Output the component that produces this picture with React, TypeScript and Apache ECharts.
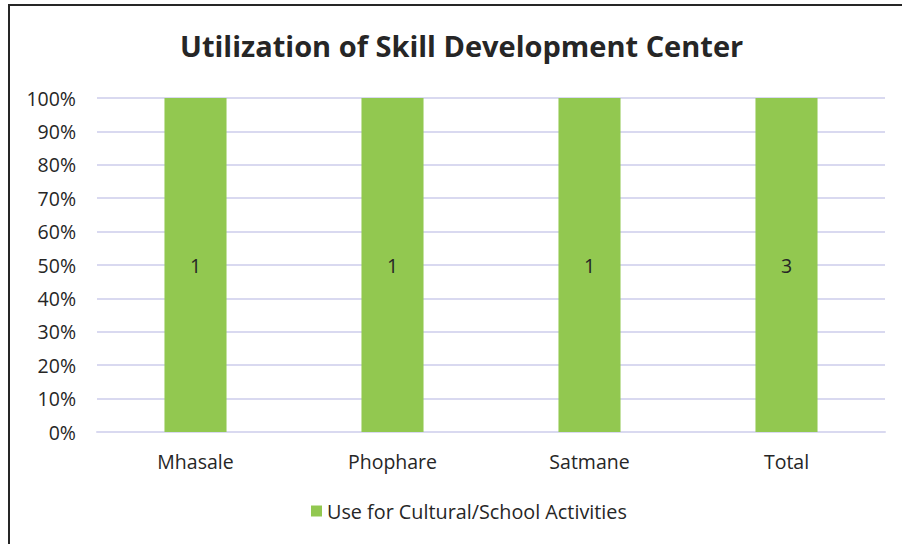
import React, { useEffect, useRef } from "react";
import * as echarts from "echarts";

const categories = ["Mhasale", "Phophare", "Satmane", "Total"];
const seriesName = "Use for Cultural/School Activities";
const counts = [1, 1, 1, 3];
const yTicks = [0, 10, 20, 30, 40, 50, 60, 70, 80, 90, 100];
const title = "Utilization of Skill Development Center";

const FONT = "'Open Sans', 'Noto Sans', sans-serif";

export default function App() {
  const ref = useRef<HTMLDivElement>(null);
  useEffect(() => {
    if (!ref.current) return;
    const chart = echarts.init(ref.current, null, { renderer: "svg" });
    // one series => its share of each category's total
    const totals = counts.map((c) => c);
    const pct = counts.map((c, i) => (totals[i] ? (c / totals[i]) * 100 : 0));
    chart.setOption({
      animation: false,
      backgroundColor: "#ffffff",
      textStyle: { fontFamily: FONT },
      title: {
        text: title,
        left: 175,
        top: 26,
        textStyle: { fontFamily: FONT, fontSize: 29, fontWeight: "bold", color: "#262626" },
      },
      grid: { left: 97, right: 17, top: 98, bottom: 112, containLabel: false },
      legend: {
        top: 496,
        left: 306,
        itemWidth: 11,
        itemHeight: 11,
        itemGap: 6,
        icon: "rect",
        textStyle: { fontFamily: FONT, fontSize: 19.8, color: "#262626" },
        data: [seriesName],
      },
      xAxis: {
        type: "category",
        data: categories,
        axisLine: { show: true, lineStyle: { color: "#d9d9f0", width: 2 } },
        axisTick: { show: false },
        axisLabel: { fontFamily: FONT, fontSize: 19.5, color: "#262626", margin: 19 },
      },
      yAxis: {
        type: "value",
        min: 0,
        max: 100,
        interval: 10,
        axisLine: { show: false },
        axisTick: { show: false },
        splitLine: { lineStyle: { color: "#d9d9f0", width: 2 } },
        axisLabel: {
          fontFamily: FONT,
          fontSize: 19.5,
          color: "#262626",
          margin: 21,
          formatter: (v: number) => (yTicks.includes(v) ? `${v}%` : ""),
        },
      },
      series: [
        {
          name: seriesName,
          type: "bar",
          stack: "total",
          barWidth: "31.5%",
          itemStyle: { color: "#92c850" },
          data: pct,
          label: {
            show: true,
            position: "inside",
            fontFamily: FONT,
            fontSize: 19.5,
            color: "#262626",
            formatter: (p: any) => String(counts[p.dataIndex]),
          },
        },
      ],
      graphic: [
        { type: "line", shape: { x1: 9, y1: 5, x2: 9, y2: 544 }, style: { stroke: "#262626", lineWidth: 2 } },
        { type: "line", shape: { x1: 8, y1: 5, x2: 902, y2: 5 }, style: { stroke: "#262626", lineWidth: 2 } },
      ],
    });
    return () => chart.dispose();
  }, []);
  return (
    <div
      ref={ref}
      style={{ position: "absolute", left: 0, top: 0, width: 902, height: 544 }}
    />
  );
}
